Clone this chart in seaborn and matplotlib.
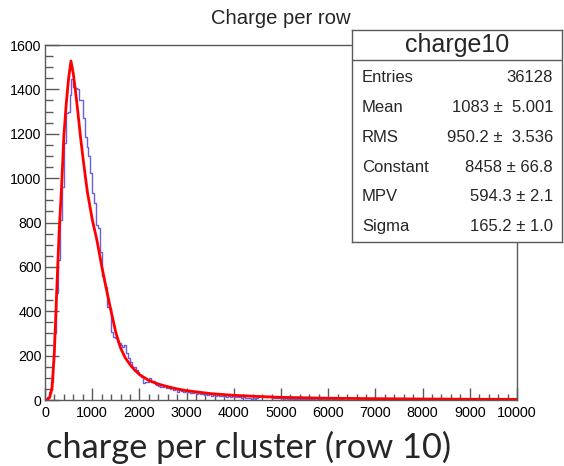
import numpy as np
import pandas as pd
import matplotlib
matplotlib.use("Agg")
import matplotlib.pyplot as plt
import seaborn as sns
from matplotlib.ticker import MultipleLocator

# ---------------- data ----------------
hist_name = "charge10"
title = "Charge per row"
caption = "charge per cluster (row 10)"
bin_lo, bin_hi, n_bins = 0, 10000, 250

counts = [
    0, 12, 37, 82, 165, 301, 481, 631, 811, 961,
    1157, 1295, 1300, 1375, 1445, 1410, 1405, 1400, 1352, 1352,
    1271, 1187, 1142, 1100, 1025, 931, 887, 789, 774, 668,
    560, 533, 511, 421, 415, 308, 285, 279, 263, 255,
    250, 240, 248, 211, 190, 173, 150, 150, 135, 128,
    113, 105, 75, 82, 82, 99, 82, 85, 72, 68,
    65, 60, 58, 62, 52, 55, 48, 54, 46, 50,
    38, 44, 40, 36, 42, 34, 38, 30, 33, 36,
    28, 31, 26, 29, 24, 27, 22, 25, 20, 23,
    19, 22, 18, 20, 16, 19, 15, 17, 14, 16,
    13, 15, 12, 14, 11, 13, 10, 8, 7, 6,
    8, 6, 9, 16, 18, 17, 15, 14, 16, 12,
    10, 9, 11, 8, 9, 7, 6, 8, 5, 6,
    4, 5, 3, 4, 5, 3, 4, 3, 5, 4,
    3, 4, 3, 2, 4, 3, 3, 4, 2, 3,
    3, 2, 4, 3, 2, 3, 2, 3, 2, 2,
    3, 2, 2, 1, 2, 3, 2, 1, 2, 2,
    1, 2, 2, 1, 2, 1, 2, 2, 1, 1,
    2, 1, 1, 2, 1, 2, 1, 1, 2, 1,
    1, 2, 1, 1, 2, 1, 3, 4, 3, 1,
    5, 4, 2, 1, 1, 2, 1, 1, 1, 2,
    1, 1, 2, 1, 1, 1, 1, 2, 1, 1,
    1, 1, 1, 2, 1, 1, 1, 1, 1, 1,
    1, 1, 2, 1, 1, 1, 1, 1, 1, 1,
    1, 1, 1, 1, 1, 1, 1, 1, 1, 1,
]

fit_x = [0, 50, 100, 150, 200, 250, 300, 350, 400, 450, 500, 550, 600, 650,
         700, 750, 800, 850, 900, 1000, 1100, 1200, 1300, 1400, 1500, 1600,
         1700, 1800, 1900, 2000, 2200, 2400, 2600, 2800, 3000, 3500, 4000,
         4500, 5000, 6000, 7000, 8000, 9000, 10000]
fit_y = [0, 1, 12, 55, 225, 500, 760, 955, 1190, 1335, 1450, 1528, 1470, 1385,
         1290, 1190, 1100, 1015, 935, 815, 720, 605, 500, 400, 305, 235,
         190, 160, 135, 115, 88, 72, 60, 50, 42, 29, 21,
         16, 12, 8, 6, 4.5, 3.5, 3]

stat_labels = ["Entries", "Mean", "RMS", "Constant", "MPV", "Sigma"]
stat_values = ["36128", "1083 \u00b1  5.001", "950.2 \u00b1  3.536",
               "8458 \u00b1 66.8", "594.3 \u00b1 2.1", "165.2 \u00b1 1.0"]

x_ticks = [0, 1000, 2000, 3000, 4000, 5000, 6000, 7000, 8000, 9000, 10000]
y_ticks = [0, 200, 400, 600, 800, 1000, 1200, 1400, 1600]

# ---------------- style ----------------
sns.set_style("ticks")
plt.rcParams["font.family"] = ["Liberation Sans", "DejaVu Sans"]

W, H = 564, 466
fig = plt.figure(figsize=(W / 100, H / 100), dpi=100)
fig.patch.set_facecolor("white")

def fx(px):
    return px / W

def fy(py):
    return 1 - py / H

ax_l, ax_r, ax_t, ax_b = 45, 517, 45, 400
ax = fig.add_axes([fx(ax_l), fy(ax_b), fx(ax_r - ax_l), (ax_b - ax_t) / H])

centers = (np.arange(n_bins) + 0.5) * (bin_hi - bin_lo) / n_bins + bin_lo
df = pd.DataFrame({"x": centers, "w": counts})
sns.histplot(data=df, x="x", weights="w", bins=n_bins, binrange=(bin_lo, bin_hi),
             element="step", fill=False, color="#6a5fe0", linewidth=1.0, ax=ax)

fit_df = pd.DataFrame({"x": fit_x, "y": fit_y})
sns.lineplot(data=fit_df, x="x", y="y", color="#ff0000", linewidth=2.0,
             sort=False, estimator=None, ax=ax)

ax.set_xlim(0, 10000)
ax.set_ylim(0, 1600)
ax.set_xlabel("")
ax.set_ylabel("")
ax.set_xticks(x_ticks)
ax.set_xticklabels([str(v) for v in x_ticks])
ax.set_yticks(y_ticks)
ax.set_yticklabels([str(v) for v in y_ticks])
ax.xaxis.set_minor_locator(MultipleLocator(200))
ax.yaxis.set_minor_locator(MultipleLocator(50))
frame_col = "#5a5a5a"
ax.tick_params(axis="both", which="both", direction="in", colors=frame_col,
               labelcolor="black", top=False, right=False, width=1)
ax.tick_params(axis="x", which="major", length=9, pad=4, labelsize=10.4)
ax.tick_params(axis="x", which="minor", length=4.5)
ax.tick_params(axis="y", which="major", length=10, pad=2.5, labelsize=10.2)
ax.tick_params(axis="y", which="minor", length=5.5)
for s in ax.spines.values():
    s.set_visible(True)
    s.set_color(frame_col)
    s.set_linewidth(1)
ax.set_facecolor("white")

# title
fig.text(fx(281), fy(18), title, ha="center", va="center", fontsize=14.6)

# stats box
bx_l, bx_r, bx_t, bx_b = 352, 562, 30, 242
bax = fig.add_axes([fx(bx_l), fy(bx_b), fx(bx_r - bx_l), (bx_b - bx_t) / H])
bax.set_xlim(bx_l, bx_r)
bax.set_ylim(bx_b, bx_t)
bax.set_xticks([])
bax.set_yticks([])
bax.set_facecolor("white")
for s in bax.spines.values():
    s.set_color(frame_col)
    s.set_linewidth(1)
bax.axhline(60, color=frame_col, linewidth=1)
bax.text((bx_l + bx_r) / 2, 45, hist_name, ha="center", va="center", fontsize=18)
for i, (lab, val) in enumerate(zip(stat_labels, stat_values)):
    yy = 77 + 30 * i
    bax.text(362, yy, lab, ha="left", va="center", fontsize=12)
    bax.text(553, yy, val, ha="right", va="center", fontsize=12)

# caption below the plot
cap = fig.text(fx(46), fy(447), caption, ha="left", va="center", fontsize=26,
               family=["Lato", "DejaVu Sans"])
fig.canvas.draw()
w = cap.get_window_extent().width
cap.set_fontsize(26 * 405 / w)

fig.savefig("out.png", dpi=100, facecolor="white")
